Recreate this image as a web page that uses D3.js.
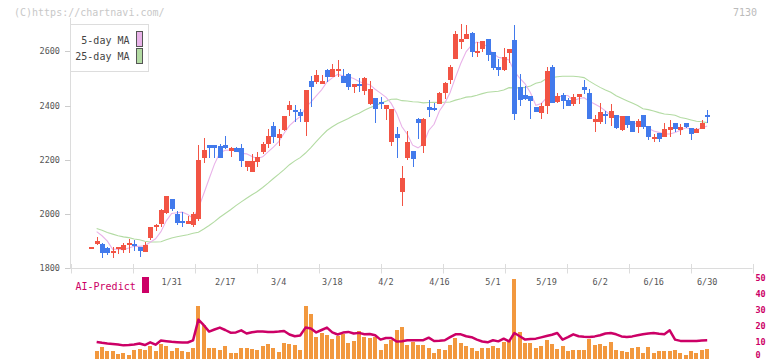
<!DOCTYPE html>
<html><head><meta charset="utf-8">
<script src="https://cdn.jsdelivr.net/npm/d3@7"></script>
<style>body{margin:0;background:#fff}svg{display:block}</style>
</head><body>
<svg id="c" width="772" height="361"></svg>
<script>
// ---- data ----
const opens=[1875,1891,1890,1875,1860,1871,1869,1886,1890,1878,1860,1913,1955,1964,2005,2055,1999,1974,1964,1960,
1983,2207,2254,2254,2252,2254,2232,2244,2244,2174,2156,2193,2228,2259,2324,2281,2309,2383,2380,2377,
2340,2490,2487,2480,2530,2506,2528,2508,2518,2469,2477,2454,2405,2428,2409,2386,2267,2295,2083,2207,
2232,2352,2250,2393,2390,2405,2447,2496,2573,2635,2647,2668,2594,2610,2645,2598,2542,2530,2592,2641,
2469,2438,2436,2393,2374,2397,2542,2414,2438,2420,2406,2432,2467,2448,2340,2340,2367,2355,2365,2309,
2361,2342,2321,2365,2324,2278,2297,2285,2309,2335,2309,2335,2317,2299,2314,2361];
const highs=[1876,1914,1892,1880,1878,1879,1892,1909,1904,1879,1896,1953,1964,2018,2067,2056,2011,2006,1994,2006,
2254,2282,2255,2255,2260,2287,2248,2246,2260,2196,2220,2227,2264,2313,2340,2313,2362,2416,2401,2387,
2458,2508,2530,2512,2536,2555,2568,2536,2519,2480,2500,2506,2491,2429,2430,2402,2388,2322,2177,2306,
2233,2353,2355,2420,2408,2449,2487,2549,2674,2702,2696,2671,2635,2638,2646,2599,2573,2612,2610,2696,
2518,2472,2437,2394,2408,2542,2549,2448,2448,2426,2441,2442,2496,2460,2365,2410,2379,2405,2367,2361,
2362,2343,2350,2366,2325,2295,2298,2335,2346,2336,2331,2336,2318,2317,2346,2383];
const lows=[1874,1886,1839,1849,1839,1852,1857,1857,1864,1843,1859,1903,1937,1953,2001,2012,1960,1953,1963,1953,
1974,2187,2207,2207,2207,2241,2211,2227,2174,2159,2155,2172,2223,2242,2262,2251,2308,2361,2340,2340,
2288,2396,2479,2479,2487,2505,2506,2483,2459,2445,2450,2438,2401,2336,2386,2346,2252,2207,2031,2199,
2174,2276,2226,2358,2379,2404,2423,2479,2571,2610,2646,2579,2579,2598,2565,2530,2509,2529,2558,2346,
2399,2420,2350,2375,2350,2368,2409,2410,2389,2398,2399,2404,2441,2350,2303,2331,2331,2324,2313,2308,
2318,2302,2299,2313,2273,2266,2266,2284,2285,2303,2291,2318,2273,2297,2313,2336];
const closes=[1875,1900,1857,1857,1862,1878,1886,1894,1884,1864,1886,1952,1958,2015,2066,2018,1968,1966,1974,1999,
2199,2236,2244,2244,2207,2243,2244,2230,2196,2195,2195,2210,2260,2287,2285,2295,2361,2401,2378,2362,
2457,2469,2512,2490,2506,2533,2536,2484,2469,2479,2475,2500,2460,2386,2407,2401,2387,2281,2134,2266,
2204,2336,2350,2383,2383,2448,2482,2542,2663,2647,2663,2598,2600,2637,2586,2539,2530,2579,2607,2368,
2420,2424,2416,2376,2398,2526,2410,2434,2417,2399,2432,2441,2458,2352,2349,2377,2362,2379,2318,2361,
2328,2303,2342,2321,2285,2280,2276,2313,2321,2313,2320,2321,2295,2313,2336,2359];
const ma5=[null,1935,1920,1900,1870,1871,1868,1875,1881,1881,1883,1896,1909,1935,1975,2002,2005,2007,1998,1985,
2021,2075,2130,2184,2226,2235,2236,2234,2224,2222,2212,2205,2211,2229,2247,2267,2298,2326,2344,2359,
2392,2413,2436,2458,2487,2502,2515,2510,2506,2500,2489,2481,2477,2460,2446,2431,2408,2372,2322,2294,
2254,2244,2258,2308,2331,2380,2409,2448,2504,2556,2599,2623,2634,2629,2617,2592,2578,2574,2568,2525,
2501,2480,2447,2401,2407,2428,2425,2429,2437,2437,2418,2425,2429,2416,2406,2395,2380,2364,2357,2359,
2350,2338,2330,2331,2316,2306,2301,2295,2295,2301,2309,2318,2314,2312,2317,2325];
const ma25=[null,1947,1940,1932,1926,1920,1916,1913,1908,1905,1900,1897,1897,1898,1905,1912,1916,1920,1924,1929,
1933,1945,1958,1972,1988,2002,2016,2031,2045,2058,2071,2083,2098,2114,2131,2147,2164,2182,2196,2208,
2225,2245,2267,2288,2308,2322,2334,2343,2352,2363,2372,2383,2392,2399,2408,2416,2423,2424,2418,2417,
2414,2413,2410,2411,2412,2411,2412,2413,2420,2425,2431,2433,2438,2444,2449,2451,2453,2457,2466,2465,
2465,2467,2472,2482,2487,2500,2503,2506,2508,2508,2508,2506,2503,2490,2478,2467,2457,2449,2436,2427,
2418,2409,2400,2388,2385,2380,2374,2369,2367,2364,2356,2352,2347,2342,2340,2337];
const volume=[null,4.6,7.5,5,5,3.1,3.8,2.5,5.6,6,5.6,8.1,5,9.4,8.1,5,7,5,4.4,6.9,
33,21,7,7,5.6,8.1,3.8,3.8,7,7,6,5.6,8.1,9.4,6.5,4.4,10,9.4,8.8,5.6,
33,28,13.8,16.3,15,12.5,14.4,15.6,10,11.3,17.5,13.8,13,13.8,5.6,9.4,11.9,18.1,20,8.8,
10.6,8.8,8.8,6.9,3.4,6.3,5.6,8.8,12.9,9.8,8,6.9,5,6.7,6.7,8,6.7,10.6,11.3,50,
16.9,10,10,6.7,7.7,11.9,9.4,6,8,5,5.6,5.6,5.6,12.5,8.8,9.4,8,10.6,5.6,5,
4,6.7,7.5,3.8,7.5,3.8,5,5,5,5.6,3.8,2.3,5,3.8,5.6,6.3];
const aiPredict=[null,10.5,10,9.6,9.3,9,8.4,8.6,9,9.6,8.6,10.3,8.8,11.4,11,10.6,10.4,10.2,10.2,11.5,
24.5,21,17,18.3,19.5,18,16.3,16.5,17.8,15.8,16.6,17,17,16.8,16.8,17,17.4,15.2,14.1,14.6,
19.5,19,16.5,18,19.5,16.5,15.2,16.4,16.8,15.8,16.2,15.3,15.5,14.7,12,13,13,10.8,11,11.6,
11.6,11.6,11.6,13.2,11.1,11.3,11.6,13.5,15.3,15.3,14.1,13.5,12,10.8,10.3,11.6,10.9,12.6,10.9,16.1,
14.1,12,12.4,12.6,13.4,14.2,15,16.1,12,13.5,15.3,14.1,13.8,13.6,14,14.7,15.8,16.1,15.3,14,
13.6,14,14.7,15.3,15.8,16.1,15.6,15.3,17.8,12,11.2,11.1,11.1,11.1,11.5,11.6];
const dateIndex=[16,26,36,46,56,66,76,86,96,106,116];
const dateLabels=["1/31","2/17","3/4","3/18","4/2","4/16","5/1","5/19","6/2","6/16","6/30"];
const priceTicks=[1800,2000,2200,2400,2600];
const subTicks=[0,10,20,30,40,50];
const legendNames=["5-day MA","25-day MA"];

// ---- styles ----
const RED="#f25444", BLUE="#427aec", PINK="#e9b3e9", GREEN="#b3dba3",
      ORANGE="#f2983e", CRIM="#cc0066", AXIS="#dcdcdc", TXT="#555";
const MONO="'DejaVu Sans Mono','Liberation Mono',monospace";

const svg=d3.select("#c");
const n=closes.length;
const x=d3.scaleLinear().domain([1,n]).range([91.3,707.2]);
const y=d3.scaleLinear().domain([1800,2600]).range([268.3,51.3]);
const yv=d3.scaleLinear().domain([0,50]).range([358.8,278.8]);
const plotL=70.5, plotR=752.5, axisY=268.5;
const grid=d3.scaleLinear().domain([0,11]).range([plotL,plotR]);

// watermark & code
svg.append("text").attr("x",14).attr("y",15.5).attr("font-family",MONO).attr("font-size",10)
  .attr("fill","#c8c8c8").text("(C)https://chartnavi.com/");
svg.append("text").attr("x",757).attr("y",15.5).attr("text-anchor","end").attr("font-family",MONO)
  .attr("font-size",10).attr("fill","#bbb").text("7130");

// axes
svg.append("line").attr("x1",plotL).attr("x2",plotL).attr("y1",18).attr("y2",axisY).attr("stroke",AXIS);
svg.append("line").attr("x1",plotL).attr("x2",plotR).attr("y1",axisY).attr("y2",axisY).attr("stroke",AXIS);
svg.append("g").selectAll("line").data(d3.range(12)).join("line")
  .attr("x1",d=>Math.round(grid(d))+0.5).attr("x2",d=>Math.round(grid(d))+0.5)
  .attr("y1",264).attr("y2",273.5).attr("stroke",AXIS);
const gy=svg.append("g");
gy.selectAll("line").data(priceTicks).join("line")
  .attr("x1",65).attr("x2",plotL).attr("y1",d=>Math.round(y(d))+0.5).attr("y2",d=>Math.round(y(d))+0.5)
  .attr("stroke","#ccc");
gy.selectAll("text").data(priceTicks).join("text")
  .attr("x",60).attr("y",d=>y(d)).attr("dy","0.35em").attr("text-anchor","end")
  .attr("font-family",MONO).attr("font-size",8.5).attr("fill",TXT).text(d=>d);
svg.append("g").selectAll("text").data(dateIndex).join("text")
  .attr("x",d=>x(d)).attr("y",282.5).attr("dy","0.35em").attr("text-anchor","middle")
  .attr("font-family",MONO).attr("font-size",8.5).attr("fill",TXT).text((d,i)=>dateLabels[i]);

// MA lines
const idx=d3.range(n);
const line=(arr)=>d3.line().defined(i=>arr[i]!=null).x(i=>x(i+1)).y(i=>y(arr[i]))(idx);
svg.append("path").attr("d",line(ma25)).attr("fill","none").attr("stroke",GREEN).attr("stroke-width",1.1);
svg.append("path").attr("d",line(ma5)).attr("fill","none").attr("stroke",PINK).attr("stroke-width",1.1);

// candles
const cg=svg.append("g").attr("shape-rendering","crispEdges");
const col=i=>closes[i]>=opens[i]?RED:BLUE;
cg.selectAll("line").data(idx).join("line")
  .attr("x1",i=>Math.round(x(i+1))+0.5).attr("x2",i=>Math.round(x(i+1))+0.5)
  .attr("y1",i=>y(highs[i])).attr("y2",i=>y(lows[i])).attr("stroke",col).attr("stroke-width",1);
cg.selectAll("rect").data(idx).join("rect")
  .attr("x",i=>Math.round(x(i+1))-2).attr("width",5)
  .attr("y",i=>{const t=y(Math.max(opens[i],closes[i])),b=y(Math.min(opens[i],closes[i]));return b-t<2?(t+b)/2-1:t;})
  .attr("height",i=>Math.max(2,Math.abs(y(opens[i])-y(closes[i]))))
  .attr("fill",col);

// legend
const lg=svg.append("g");
lg.append("rect").attr("x",70.5).attr("y",24.5).attr("width",78).attr("height",47).attr("fill","#fff").attr("stroke","#ddd");
lg.selectAll("text").data(legendNames).join("text")
  .attr("x",129.5).attr("y",(d,i)=>40+i*16.5).attr("dy","0.35em").attr("text-anchor","end")
  .attr("font-family",MONO).attr("font-size",10).attr("fill","#444").text(d=>d);
lg.selectAll("rect.sw").data([PINK,GREEN]).join("rect").attr("class","sw")
  .attr("x",136.5).attr("y",(d,i)=>31.5+i*17).attr("width",6).attr("height",15)
  .attr("fill",d=>d).attr("stroke","#555");

// sub panel: volume bars + AI-Predict
svg.append("g").attr("shape-rendering","crispEdges").selectAll("rect")
  .data(idx.filter(i=>volume[i]!=null)).join("rect")
  .attr("x",i=>Math.round(x(i+1))-2).attr("width",4)
  .attr("y",i=>yv(volume[i])).attr("height",i=>yv(0)-yv(volume[i])).attr("fill",ORANGE);
svg.append("path").attr("d",d3.line().defined(i=>aiPredict[i]!=null).x(i=>x(i+1)).y(i=>yv(aiPredict[i]))(idx))
  .attr("fill","none").attr("stroke",CRIM).attr("stroke-width",2.5).attr("stroke-linejoin","round");
svg.append("g").selectAll("text").data(subTicks).join("text")
  .attr("x",755.5).attr("y",d=>Math.min(yv(d)-1,355)).attr("dy","0.35em")
  .attr("font-family",MONO).attr("font-size",8.5).attr("font-weight","bold").attr("fill",CRIM).text(d=>d);
svg.append("text").attr("x",75.5).attr("y",286).attr("dy","0.35em").attr("font-family",MONO)
  .attr("font-size",10).attr("fill",CRIM).text("AI-Predict");
svg.append("rect").attr("x",142).attr("y",277).attr("width",7).attr("height",16).attr("fill",CRIM);
</script>
</body></html>
